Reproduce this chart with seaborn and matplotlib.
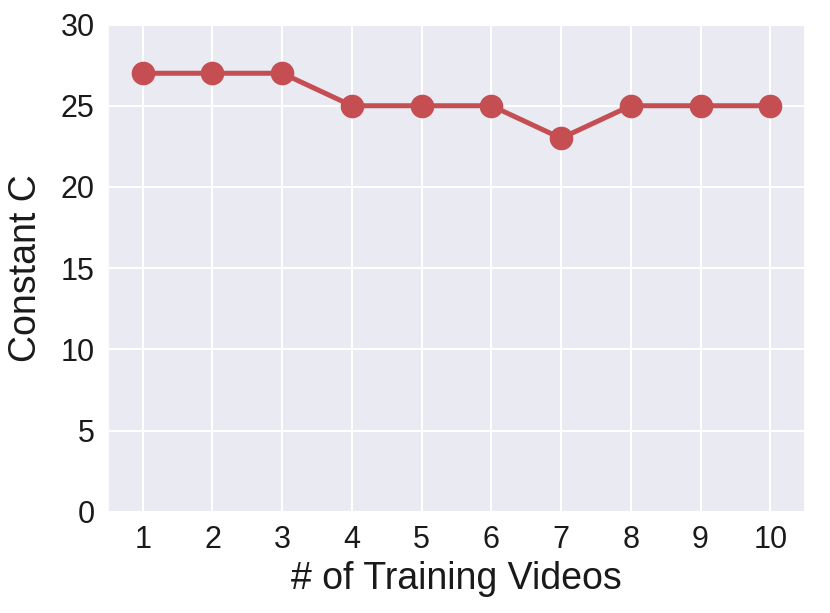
import numpy as np
import pandas as pd
import seaborn as sns
import matplotlib.pyplot as plt

# data
videos = [1, 2, 3, 4, 5, 6, 7, 8, 9, 10]
constant_c = [27, 27, 27, 25, 25, 25, 23, 25, 25, 25]

sns.set_theme(style="darkgrid")
plt.rcParams["font.family"] = ["Liberation Sans", "DejaVu Sans"]

df = pd.DataFrame({"videos": videos, "C": constant_c})

fig, ax = plt.subplots(figsize=(8.3, 6.13), dpi=100)
sns.lineplot(data=df, x="videos", y="C", color="#C44E52", linewidth=3.6,
             marker="o", markersize=17, markeredgewidth=0, ax=ax)

ax.set_xlim(0.5, 10.5)
ax.set_ylim(0, 30)
ax.set_xticks(videos)
ax.set_yticks(range(0, 31, 5))
ax.tick_params(labelsize=22, colors="#1a1a1a")
ax.set_xlabel("# of Training Videos", fontsize=27, color="#1a1a1a")
ax.set_ylabel("Constant C", fontsize=27, color="#1a1a1a", labelpad=12)
ax.grid(linewidth=1.5)

plt.subplots_adjust(left=0.13, right=0.97, top=0.96, bottom=0.165)
plt.savefig("out.png", dpi=100)
